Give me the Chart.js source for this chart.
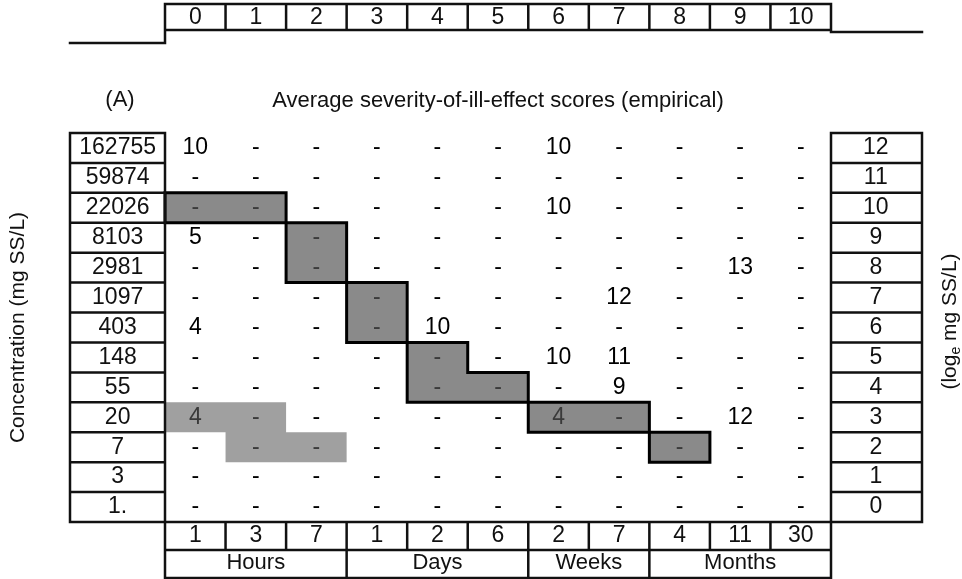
<!DOCTYPE html>
<html>
<head>
<meta charset="utf-8">
<script src="https://cdn.jsdelivr.net/npm/chart.js@4/dist/chart.umd.min.js"></script>
<style>html,body{margin:0;padding:0;background:#fff;}canvas{display:block;}</style>
</head>
<body>
<canvas id="c" width="962" height="579"></canvas>
<script>
// ---------- DATA ----------
const concentrationLabels = ['162755','59874','22026','8103','2981','1097','403','148','55','20','7','3','1.'];
const logLabels = ['12','11','10','9','8','7','6','5','4','3','2','1','0'];
const scoreLabels = ['0','1','2','3','4','5','6','7','8','9','10'];
const durationLabels = ['1','3','7','1','2','6','2','7','4','11','30'];
const durationUnits = ['Hours','Days','Weeks','Months'];
const unitSpans = [3, 3, 2, 3];

// severity scores, rows from top (log 12) to bottom (log 0), columns = durations
const severityRows = [
  ['10','-','-','-','-','-','10','-','-','-','-'],
  ['-','-','-','-','-','-','-','-','-','-','-'],
  ['-','-','-','-','-','-','10','-','-','-','-'],
  ['5','-','-','-','-','-','-','-','-','-','-'],
  ['-','-','-','-','-','-','-','-','-','13','-'],
  ['-','-','-','-','-','-','-','12','-','-','-'],
  ['4','-','-','-','10','-','-','-','-','-','-'],
  ['-','-','-','-','-','-','10','11','-','-','-'],
  ['-','-','-','-','-','-','-','9','-','-','-'],
  ['4','-','-','-','-','-','4','-','-','12','-'],
  ['-','-','-','-','-','-','-','-','-','-','-'],
  ['-','-','-','-','-','-','-','-','-','-','-'],
  ['-','-','-','-','-','-','-','-','-','-','-']
];

// outlined (staircase) shaded cells: column index / log row
const blockCols = [0, 1, 2, 2, 3, 3, 4, 4, 5, 6, 7, 8];
const blockLogs = [10, 10, 9, 8, 7, 6, 5, 4, 4, 3, 3, 2];
// shaded cells without outline
const plainCols = [0, 1, 1, 2];
const plainLogs = [3, 3, 2, 2];

// ---------- STYLE ----------
const FONT = "'Liberation Sans', Arial, Helvetica, sans-serif";
Chart.defaults.font.family = FONT;
Chart.defaults.color = '#111';
const LINE = '#111';
const BLOCK_FILL = '#8a8a8a';
const PLAIN_FILL = '#a0a0a0';
const LEFT_BOX_W = 95, RIGHT_BOX_W = 91;
const TOP_BOX_TOP = 4, TOP_BOX_BOTTOM = 30, LEFT_RULE_Y = 43, RIGHT_RULE_Y = 32;

const nRows = logLabels.length;
const nCols = durationLabels.length;
const centers = n => Array.from({length: n}, (_, k) => ({value: k + 0.5}));

const cellPoints = [];
severityRows.forEach((row, i) => row.forEach((t, j) => {
  cellPoints.push({x: j + 0.5, y: nRows - 1 - i + 0.5, t: t});
}));

const unitBounds = [0];
unitSpans.forEach(s => unitBounds.push(unitBounds[unitBounds.length - 1] + s));
const unitCenters = unitSpans.map((s, k) => ({value: unitBounds[k] + s / 2}));

const blockKey = (c, l) => c + ',' + l;
const blockSet = new Set(blockCols.map((c, k) => blockKey(c, blockLogs[k])));
const plainSet = new Set(plainCols.map((c, k) => blockKey(c, plainLogs[k])));

function line(ctx, x0, y0, x1, y1) { ctx.moveTo(x0, y0); ctx.lineTo(x1, y1); }

const tablePlugin = {
  id: 'tablePlugin',
  beforeDatasetsDraw(chart) {
    const {ctx, scales: {x, y}} = chart;
    const cell = (c, l) => ({x0: x.getPixelForValue(c), x1: x.getPixelForValue(c + 1),
                             y0: y.getPixelForValue(l + 1), y1: y.getPixelForValue(l)});
    ctx.save();
    ctx.fillStyle = PLAIN_FILL;
    ctx.beginPath();
    plainCols.forEach((c, k) => { const r = cell(c, plainLogs[k]); ctx.rect(r.x0, r.y0, r.x1 - r.x0, r.y1 - r.y0); });
    ctx.fill();
    ctx.fillStyle = BLOCK_FILL;
    ctx.beginPath();
    blockCols.forEach((c, k) => { const r = cell(c, blockLogs[k]); ctx.rect(r.x0, r.y0, r.x1 - r.x0, r.y1 - r.y0); });
    ctx.fill();
    ctx.strokeStyle = '#000';
    ctx.lineWidth = 3;
    ctx.lineCap = 'square';
    ctx.beginPath();
    blockCols.forEach((c, k) => {
      const l = blockLogs[k]; const r = cell(c, l);
      if (!blockSet.has(blockKey(c, l + 1))) line(ctx, r.x0, r.y0, r.x1, r.y0);
      if (!blockSet.has(blockKey(c, l - 1))) line(ctx, r.x0, r.y1, r.x1, r.y1);
      if (!blockSet.has(blockKey(c - 1, l))) line(ctx, r.x0, r.y0, r.x0, r.y1);
      if (!blockSet.has(blockKey(c + 1, l))) line(ctx, r.x1, r.y0, r.x1, r.y1);
    });
    ctx.stroke();
    ctx.restore();
  },
  afterDatasetsDraw(chart) {
    const {ctx} = chart;
    const meta = chart.getDatasetMeta(0);
    const pts = chart.data.datasets[0].data;
    ctx.save();
    ctx.font = '23px ' + FONT;
    ctx.textAlign = 'center';
    ctx.textBaseline = 'middle';
    meta.data.forEach((el, k) => {
      const p = pts[k];
      const key = blockKey(p.x - 0.5, p.y - 0.5);
      ctx.fillStyle = (blockSet.has(key) || plainSet.has(key)) ? '#3a3a3a' : '#000';
      ctx.fillText(p.t, el.x, el.y);
    });
    ctx.restore();
  },
  afterDraw(chart) {
    const {ctx, scales: {x, y, x2, x3, y2}} = chart;
    ctx.save();
    ctx.strokeStyle = LINE;
    ctx.lineWidth = 2.5;
    ctx.lineCap = 'square';
    ctx.beginPath();
    // left concentration boxes
    const lx0 = y.right - LEFT_BOX_W, lx1 = y.right;
    for (let k = 0; k <= nRows; k++) line(ctx, lx0, y.getPixelForValue(k), lx1, y.getPixelForValue(k));
    line(ctx, lx0, y.getPixelForValue(nRows), lx0, y.getPixelForValue(0));
    line(ctx, lx1, y.getPixelForValue(nRows), lx1, x3.bottom - 1);
    // right log boxes
    const rx0 = y2.left, rx1 = y2.left + RIGHT_BOX_W;
    for (let k = 0; k <= nRows; k++) line(ctx, rx0, y2.getPixelForValue(k), rx1, y2.getPixelForValue(k));
    line(ctx, rx0, y2.getPixelForValue(nRows), rx0, x.bottom);
    line(ctx, rx1, y2.getPixelForValue(nRows), rx1, y2.getPixelForValue(0));
    // top score boxes
    for (let k = 0; k <= nCols; k++) {
      const px = x2.getPixelForValue(k);
      line(ctx, px, TOP_BOX_TOP, px, k === 0 ? LEFT_RULE_Y : TOP_BOX_BOTTOM);
    }
    line(ctx, x2.getPixelForValue(0), TOP_BOX_TOP, x2.getPixelForValue(nCols), TOP_BOX_TOP);
    line(ctx, x2.getPixelForValue(0), TOP_BOX_BOTTOM, x2.getPixelForValue(nCols), TOP_BOX_BOTTOM);
    line(ctx, lx0, LEFT_RULE_Y, x2.getPixelForValue(0), LEFT_RULE_Y);
    line(ctx, x2.getPixelForValue(nCols), RIGHT_RULE_Y, rx1, RIGHT_RULE_Y);
    // bottom duration boxes
    for (let k = 0; k <= nCols; k++) { const px = x.getPixelForValue(k); line(ctx, px, x.top, px, x.bottom); }
    line(ctx, lx0, x.top, x.right, x.top);
    line(ctx, x.left, x.bottom, x.right, x.bottom);
    // unit group boxes
    unitBounds.forEach(b => { const px = x3.getPixelForValue(b); line(ctx, px, x3.top, px, x3.bottom - 1); });
    line(ctx, x3.left, x3.bottom - 1, x3.right, x3.bottom - 1);
    ctx.stroke();

    // panel tag
    ctx.fillStyle = '#111';
    ctx.font = '22px ' + FONT;
    ctx.textAlign = 'center';
    ctx.textBaseline = 'middle';
    ctx.fillText('(A)', lx0 + 50, x2.top + 100);

    // right axis title, rotated like the left one, with subscript e
    const main1 = '(log', sub = 'e', main2 = ' mg SS/L)';
    ctx.font = '21px ' + FONT;
    const w1 = ctx.measureText(main1).width, w3 = ctx.measureText(main2).width;
    ctx.font = '14px ' + FONT;
    const w2 = ctx.measureText(sub).width;
    const total = w1 + w2 + w3;
    ctx.translate(y2.right - 12, (y2.top + y2.bottom) / 2 - 6);
    ctx.rotate(-Math.PI / 2);
    ctx.textAlign = 'left';
    ctx.font = '21px ' + FONT;
    ctx.fillText(main1, -total / 2, 0);
    ctx.font = '14px ' + FONT;
    ctx.fillText(sub, -total / 2 + w1, 6);
    ctx.font = '21px ' + FONT;
    ctx.fillText(main2, -total / 2 + w1 + w2, 0);
    ctx.restore();
  }
};

const noGrid = {display: false, drawTicks: false};
const noBorder = {display: false};

new Chart(document.getElementById('c'), {
  type: 'scatter',
  data: {
    datasets: [{
      data: cellPoints,
      pointRadius: 0,
      pointHoverRadius: 0,
      xAxisID: 'x',
      yAxisID: 'y'
    }]
  },
  options: {
    responsive: false,
    animation: false,
    devicePixelRatio: 1,
    layout: {padding: 0},
    plugins: {legend: {display: false}, tooltip: {enabled: false}},
    events: [],
    scales: {
      x: {
        type: 'linear', position: 'bottom', min: 0, max: nCols, weight: 0,
        afterBuildTicks: s => { s.ticks = centers(nCols); },
        afterFit: s => { s.height = 28; },
        ticks: {autoSkip: false, maxRotation: 0, padding: 0, color: '#111', font: {size: 23},
                callback: (v, i) => durationLabels[i]},
        grid: noGrid, border: noBorder
      },
      x3: {
        type: 'linear', position: 'bottom', min: 0, max: nCols, weight: 1,
        afterBuildTicks: s => { s.ticks = unitCenters.map(t => ({value: t.value})); },
        afterFit: s => { s.height = 29; },
        ticks: {autoSkip: false, maxRotation: 0, padding: 0, color: '#111', font: {size: 22},
                callback: (v, i) => durationUnits[i]},
        grid: noGrid, border: noBorder
      },
      x2: {
        type: 'linear', position: 'top', min: 0, max: nCols,
        afterBuildTicks: s => { s.ticks = centers(nCols); },
        afterFit: s => { s.height = 133; },
        ticks: {autoSkip: false, maxRotation: 0, padding: 102, color: '#111', font: {size: 23},
                callback: (v, i) => scoreLabels[i]},
        title: {display: true, text: 'Average severity-of-ill-effect scores (empirical)',
                color: '#111', font: {size: 22}, padding: {top: 88, bottom: 0}},
        grid: noGrid, border: noBorder
      },
      y: {
        type: 'linear', position: 'left', min: 0, max: nRows,
        afterBuildTicks: s => { s.ticks = centers(nRows); },
        afterFit: s => { s.width = 165; },
        ticks: {autoSkip: false, crossAlign: 'center', padding: 9, color: '#111', font: {size: 23},
                callback: (v, i) => concentrationLabels[nRows - 1 - i]},
        title: {display: true, text: 'Concentration (mg SS/L)', color: '#111',
                font: {size: 21}, padding: {top: 6, bottom: 0}},
        grid: noGrid, border: noBorder
      },
      y2: {
        type: 'linear', position: 'right', min: 0, max: nRows,
        afterBuildTicks: s => { s.ticks = centers(nRows); },
        afterFit: s => { s.width = 131; },
        ticks: {autoSkip: false, crossAlign: 'center', padding: 32, color: '#111', font: {size: 23},
                callback: (v, i) => logLabels[nRows - 1 - i]},
        grid: noGrid, border: noBorder
      }
    }
  },
  plugins: [tablePlugin]
});
</script>
</body>
</html>
